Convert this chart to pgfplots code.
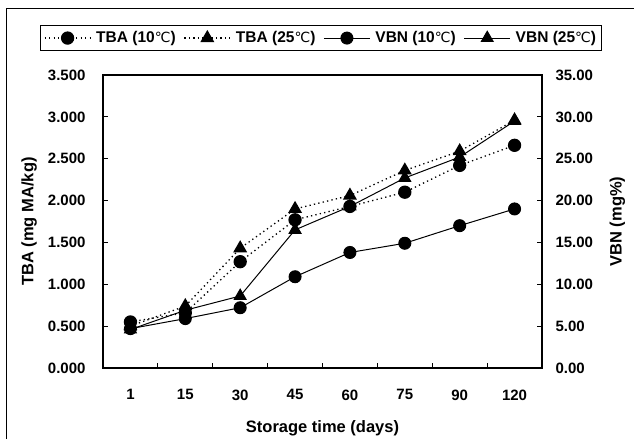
\documentclass[border=0pt]{standalone}
\usepackage{fontspec}
\setmainfont{Liberation Sans}
\newfontfamily\dejavu{DejaVu Sans}
\usepackage{pgfplots}
\pgfplotsset{compat=1.18}
\newcommand{\dc}{{\dejavu\mdseries\fontsize{14}{16}\selectfont ℃}}
\begin{document}
\begin{tikzpicture}[x=1pt,y=1pt]
\useasboundingbox (0,0) rectangle (634,439);
\draw[line width=1pt] (6,0) -- (6,430) -- (634,430);
\pgfplotsset{
  common/.style={
    scale only axis, width=439pt, height=293pt,
    at={(103pt,71pt)}, anchor=south west,
    xmin=-0.5, xmax=7.5, ymin=0,
    axis line style={line width=1.5pt},
    tick style={line width=1.2pt, black},
    major tick length=5pt, minor tick length=5pt, tick align=inside,
    font=\fontsize{16.5}{19}\selectfont\bfseries,
    /pgf/number format/assume math mode=true,
    tick label style={font=\fontsize{15}{17}\selectfont\bfseries},
  },
  dots/.style={black, line width=1.3pt, dash pattern=on 1.3pt off 3.2pt},
  sol/.style={black, line width=1pt},
  circ/.style={mark=*, mark size=6pt, mark options={solid, fill=black}},
  tri/.style={mark=triangle*, mark size=6.8pt, mark options={solid, fill=black}},
  legend image code/.code={\draw[#1, mark repeat=2, mark phase=2] plot coordinates {(0pt,0pt) (23pt,0pt) (46pt,0pt)};},
}
\begin{axis}[common,
  ymax=3.5, ytick={0,0.5,...,3.5},
  ytick pos=left, xtick pos=bottom,
  yticklabel style={/pgf/number format/fixed, /pgf/number format/fixed zerofill, /pgf/number format/precision=3, xshift=-14pt},
  xtick={0,...,7}, xticklabels={1,15,30,45,60,75,90,120},
  major x tick style={draw=none},
  minor xtick={0.5,1.5,...,6.5},
  xticklabel style={yshift=-18pt},
  ylabel={TBA (mg MA/kg)},
  ylabel style={at={(axis description cs:-0.1685,0.5)}, anchor=center},
  xlabel={Storage time (days)},
  xlabel style={at={(axis description cs:0.5,-0.205)}, anchor=center},
]
\addplot[dots, circ] coordinates {(0,0.55) (1,0.66) (2,1.27) (3,1.77) (4,1.93) (5,2.10) (6,2.42) (7,2.66)};
\addplot[dots, tri] coordinates {(0,0.50) (1,0.74) (2,1.43) (3,1.90) (4,2.06) (5,2.36) (6,2.59) (7,2.96)};
\end{axis}
\begin{axis}[common,
  ymax=35, ytick={0,5,...,35},
  axis x line=none, axis y line*=right, ytick pos=right,
  yticklabel style={/pgf/number format/fixed, /pgf/number format/fixed zerofill, /pgf/number format/precision=2, xshift=10pt, anchor=west},
  ylabel={VBN (mg\%)},
  ylabel style={at={(axis description cs:1.172,0.5)}, anchor=center},
  legend columns=4,
  legend style={at={(axis description cs:0.4966,1.126)}, anchor=center,
    draw=black, line width=1pt, font=\fontsize{15.5}{18}\selectfont\bfseries,
    inner xsep=3pt, inner ysep=4pt,
    /tikz/every odd column/.append style={column sep=3pt},
    /tikz/every even column/.append style={column sep=6pt}},
]
\addlegendimage{dots, circ}
\addlegendentry{TBA (10\dc)}
\addlegendimage{dots, tri}
\addlegendentry{TBA (25\dc)}
\addplot[sol, circ] coordinates {(0,4.7) (1,5.9) (2,7.2) (3,10.9) (4,13.8) (5,14.9) (6,17.0) (7,19.0)};
\addlegendentry{VBN (10\dc)}
\addplot[sol, tri] coordinates {(0,4.6) (1,6.9) (2,8.6) (3,16.5) (4,19.3) (5,22.7) (6,25.2) (7,29.5)};
\addlegendentry{VBN (25\dc)}
\end{axis}
\end{tikzpicture}
\end{document}
